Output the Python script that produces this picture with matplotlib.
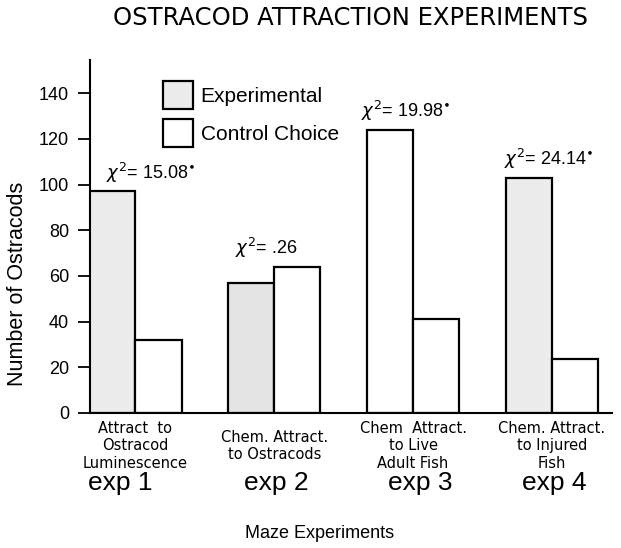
import matplotlib.pyplot as plt
import numpy as np

# Data
experiments = ['exp 1', 'exp 2', 'exp 3', 'exp 4']
descriptions = ['Attract  to\nOstracod\nLuminescence',
                'Chem. Attract.\nto Ostracods',
                'Chem  Attract.\nto Live\nAdult Fish',
                'Chem. Attract.\nto Injured\nFish']
experimental = [97, 57, 124, 103]
control = [32, 64, 41, 23.5]
chi_values = ['15.08*', '.26', '19.98*', '24.14*']

plt.rcParams['font.family'] = ['Liberation Sans', 'DejaVu Sans']

fig = plt.figure(figsize=(6.21, 5.48), dpi=100)
ax = fig.add_axes([0.145, 0.2464, 0.8405, 0.6441])

x = np.arange(len(experiments)) * 3.0
width = 1.0

# exp 3 experimental bar is unshaded in the original
exp_colors = ['#ececec', '#e4e4e4', 'white', '#ececec']

ax.bar(x - width / 2, experimental, width, color=exp_colors,
       edgecolor='black', linewidth=1.6, label='Experimental')
ax.bar(x + width / 2, control, width, color='white',
       edgecolor='black', linewidth=1.6, label='Control Choice')

# chi-square labels
chi_offsets = [0.32, -0.17, -0.17, -0.06]
for i in range(len(experiments)):
    top = max(experimental[i], control[i])
    ax.text(x[i] + chi_offsets[i], top + 3,
            r'$\chi^{2}$= ' + chi_values[i].replace('*', r'$^{\bullet}$'),
            ha='center', va='bottom', fontsize=13)

ax.set_xlim(-0.98, 10.3)
ax.set_ylim(0, 154.5)
ax.set_yticks(np.arange(0, 141, 20))
ax.set_xticks([])
ax.tick_params(axis='y', length=9, width=1.3, labelsize=13, pad=6)

for s in ['top', 'right']:
    ax.spines[s].set_visible(False)
ax.spines['left'].set_linewidth(1.5)
ax.spines['bottom'].set_linewidth(1.5)

# category descriptions and experiment names under the axis
exp_offsets = [-0.32, 0.05, 0.15, 0.06]
xt = ax.get_xaxis_transform()
for i in range(len(experiments)):
    ax.text(x[i], -0.0935, descriptions[i], transform=xt, ha='center',
            va='center', fontsize=10.5, linespacing=1.2, family='DejaVu Sans')
    ax.text(x[i] + exp_offsets[i], -0.198, experiments[i], transform=xt,
            ha='center', va='center', fontsize=19)

ax.set_ylabel('Number of Ostracods', fontsize=15.5)
ax.yaxis.set_label_coords(-0.118, 0.365)
fig.text(0.515, 0.026, 'Maze Experiments', ha='center', va='center', fontsize=13)
fig.text(0.565, 0.967, 'OSTRACOD ATTRACTION EXPERIMENTS', ha='center', va='center',
         fontsize=17.5, family='DejaVu Sans')

ax.legend(loc='upper left', bbox_to_anchor=(0.14, 0.94), frameon=False,
          fontsize=15, handlelength=1.45, handleheight=1.7, labelspacing=0.45,
          handletextpad=0.35, borderaxespad=0, borderpad=0)

fig.savefig('out.png', dpi=100)
